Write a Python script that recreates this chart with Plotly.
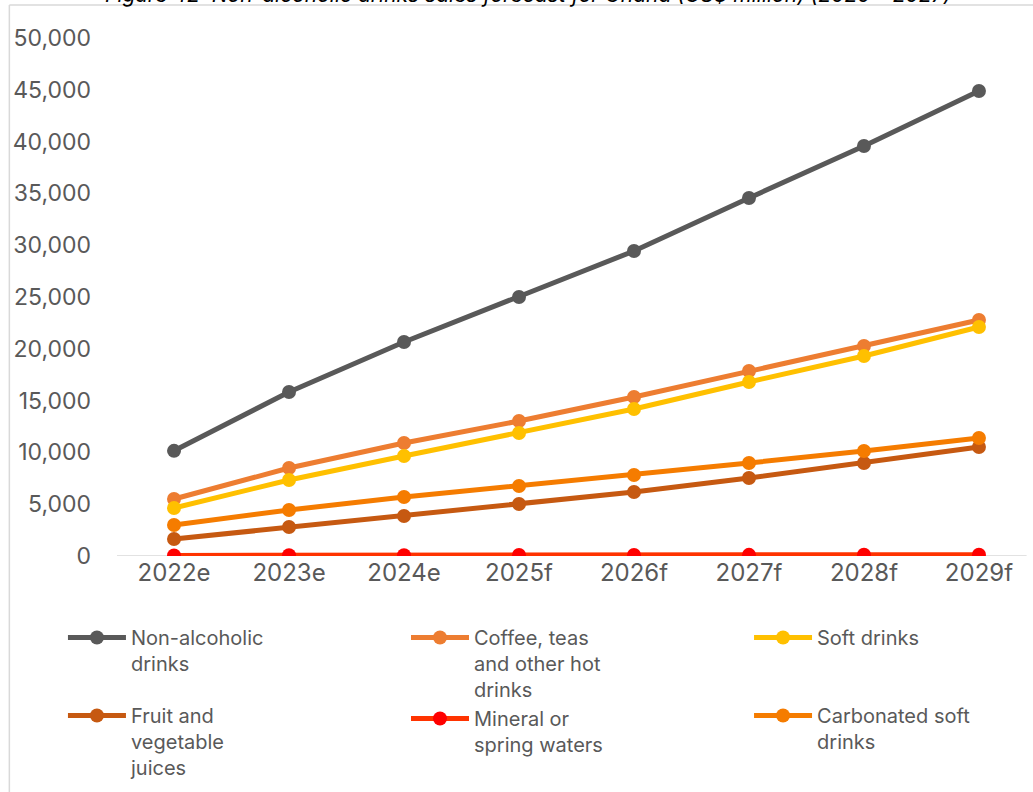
import plotly.graph_objects as go

categories = ["2022e", "2023e", "2024e", "2025f", "2026f", "2027f", "2028f", "2029f"]

non_alcoholic = [10150, 15830, 20660, 25000, 29440, 34560, 39580, 44880]
coffee_teas = [5500, 8490, 10910, 13030, 15350, 17860, 20270, 22780]
soft_drinks = [4630, 7340, 9650, 11870, 14190, 16800, 19310, 22100]
fruit_veg = [1640, 2800, 3860, 5020, 6180, 7530, 8980, 10520]
mineral_waters = [60, 70, 80, 90, 100, 110, 120, 130]
carbonated = [2990, 4440, 5700, 6760, 7820, 8980, 10140, 11390]

# name, values, line colour, marker colour, legend column, legend group
series = [
    ("Non-alcoholic<br>drinks", non_alcoholic, "#595959", "#595959", "legend", "r1"),
    ("Coffee, teas<br>and other hot<br>drinks", coffee_teas, "#ED7D31", "#ED7D31", "legend2", "r1"),
    ("Soft drinks", soft_drinks, "#FFC000", "#FFC000", "legend3", "r1"),
    ("Fruit and<br>vegetable<br>juices", fruit_veg, "#C65911", "#C65911", "legend", "r2"),
    ("Mineral or<br>spring waters", mineral_waters, "#FF3300", "#FF0000", "legend2", "r2"),
    ("Carbonated soft<br>drinks", carbonated, "#F57C00", "#F57C00", "legend3", "r2"),
]

fig = go.Figure()
x_idx = list(range(len(categories)))
for name, vals, lc, mc, lg, grp in series:
    fig.add_trace(go.Scatter(
        x=x_idx, y=vals, name=name, mode="lines+markers",
        line=dict(color=lc, width=5),
        marker=dict(color=mc, size=14),
        legend=lg, legendgroup=lg + grp,
    ))

FONT = "Inter"
LINE_H = 26  # legend line height (1.3 * font size)


def legend_cfg(x, gap):
    return dict(
        orientation="v", x=x, y=-0.1197, xanchor="left", yanchor="top",
        font=dict(size=20, color="#595959", family=FONT),
        valign="top", tracegroupgap=gap, itemwidth=58,
        bgcolor="rgba(0,0,0,0)",
    )


fig.update_layout(
    width=1033, height=792,
    margin=dict(l=117, r=0, t=38, b=236),
    paper_bgcolor="white", plot_bgcolor="white",
    font=dict(family=FONT, color="#595959"),
    showlegend=True,
    legend=legend_cfg(-0.059, LINE_H - 3),
    legend2=legend_cfg(0.3155, 0),
    legend3=legend_cfg(0.690, 2 * LINE_H - 3),
    xaxis=dict(
        range=[-0.496, 7.47], tickmode="array", tickvals=x_idx, ticktext=categories,
        showgrid=False, zeroline=False, showline=False, ticks="",
        tickfont=dict(size=24, color="#595959"),
    ),
    yaxis=dict(
        range=[0, 50000], tickvals=list(range(0, 50001, 5000)),
        tickformat=",d", showgrid=False, zeroline=False, showline=False,
        ticks="", tickfont=dict(size=23, color="#595959"), ticklabelstandoff=25,
    ),
    shapes=[
        dict(type="line", xref="paper", yref="y", x0=0, x1=0.993, y0=0, y1=0,
             line=dict(color="#D9D9D9", width=1.5), layer="below"),
        dict(type="line", xref="paper", yref="paper", x0=-0.1175, x1=-0.1175,
             y0=-0.5, y1=1.0635, line=dict(color="#D9D9D9", width=1.5)),
        dict(type="line", xref="paper", yref="paper", x0=-0.1175, x1=1.1,
             y0=1.0635, y1=1.0635, line=dict(color="#D9D9D9", width=1.5)),
    ],
    annotations=[
        dict(text="<i>Figure 42: Non-alcoholic drinks sales forecast for Ghana (US$ million) (2020 – 2027)</i>",
             xref="paper", yref="paper", x=0.449, y=1.084, xanchor="center", yanchor="middle",
             showarrow=False, font=dict(size=21, color="#000000", family=FONT)),
    ],
)

fig.write_html(
    "out.html",
    config={"displayModeBar": False},
    post_script="document.body.style.margin='0';document.body.style.overflow='hidden';",
)
